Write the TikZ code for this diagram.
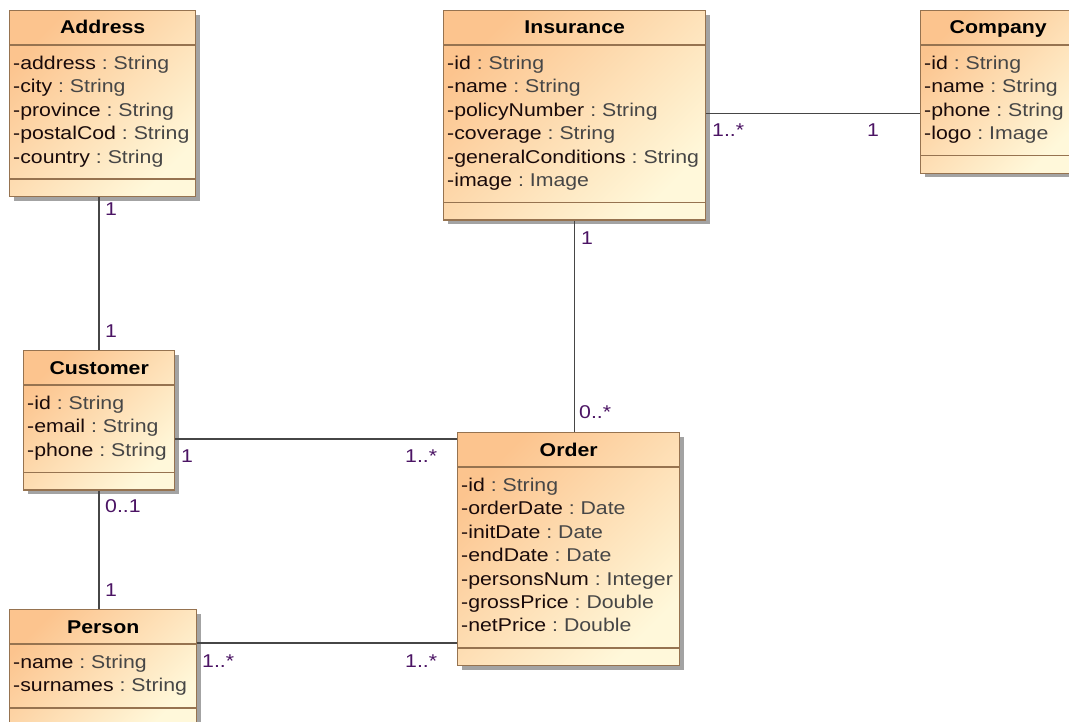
\documentclass[tikz,border=0pt]{standalone}
\usepackage{fontspec}
\setmainfont[FakeStretch=1.15]{Liberation Sans}
\usetikzlibrary{shadows,calc}
\definecolor{boxborder}{RGB}{150,115,80}
\definecolor{boxtop}{RGB}{252,196,142}
\definecolor{boxbot}{RGB}{255,248,218}
\definecolor{namecol}{RGB}{25,10,10}
\definecolor{typecol}{RGB}{70,70,70}
\definecolor{multcol}{RGB}{75,20,100}
\definecolor{linecol}{RGB}{70,70,70}
\tikzset{
  classbox/.style={draw=boxborder, line width=1.4pt, rectangle, inner sep=0pt,
    top color=boxtop, bottom color=boxbot, shading angle=45,
    drop shadow={shadow xshift=4pt, shadow yshift=-4pt, fill=black!45, opacity=0.8}},
  divider/.style={draw=boxborder, line width=1.4pt},
  titletext/.style={font=\fontsize{18.5}{22}\selectfont\bfseries, text=black, inner sep=0pt, anchor=base},
  attrtext/.style={font=\fontsize{18.5}{22}\selectfont, text=namecol, inner sep=0pt, anchor=base west},
  mult/.style={font=\fontsize{18.5}{22}\selectfont, text=multcol, inner sep=0pt, anchor=west},
  assoc/.style={draw=linecol, line width=1.5pt},
}
\newcommand\umlclass[7]{%
  \pgfmathsetmacro\umlhh{35+17+23.4*#5+17}%
  \pgfmathsetmacro\umldd{35+17+23.4*#5}%
  \node[classbox, minimum width=#4pt, minimum height=\umlhh pt, anchor=north west] (#1) at (#2,#3) {};
  \draw[divider] ([yshift=-35pt]#1.north west) -- ([yshift=-35pt]#1.north east);
  \draw[divider] ([yshift=-\umldd pt]#1.north west) -- ([yshift=-\umldd pt]#1.north east);
  \node[titletext] (#1-t) at ([yshift=-24pt]#1.north) {#6};
  \foreach \an/\at [count=\i] in {#7} {
    \pgfmathsetmacro\umlyy{35+18+23.4*(\i-1)+6.5}
    \node[attrtext] (#1-a\i) at ([xshift=4pt, yshift=-\umlyy pt]#1.north west) {\an{}~\textcolor{typecol}{:~\at}};
  }
}
\begin{document}
\begin{tikzpicture}[x=1pt,y=-1pt]
\useasboundingbox (0,0) rectangle (1069,722);
\clip (0,0) rectangle (1069,722);
\fill[white] (0,0) rectangle (1069,722);

\umlclass{addr}{9}{10}{186}{5}{Address}{-address/String,-city/String,-province/String,-postalCod/String,-country/String}
\umlclass{ins}{443}{10}{262}{6}{Insurance}{-id/String,-name/String,-policyNumber/String,-coverage/String,-generalConditions/String,-image/Image}
\umlclass{comp}{920}{10}{155}{4}{Company}{-id/String,-name/String,-phone/String,-logo/Image}
\umlclass{cust}{23}{350}{151}{3}{Customer}{-id/String,-email/String,-phone/String}
\umlclass{ord}{457}{432}{222}{7}{Order}{-id/String,-orderDate/Date,-initDate/Date,-endDate/Date,-personsNum/Integer,-grossPrice/Double,-netPrice/Double}
\umlclass{pers}{9}{609}{187}{2}{Person}{-name/String,-surnames/String}

% associations
\draw[assoc] (cust.north) -- (cust.north |- addr.south);
\draw[assoc] (cust.south) -- (cust.south |- pers.north);
\draw[assoc] (ins.south) -- (ins.south |- ord.north);
\draw[assoc] ([yshift=2pt]ins.east) -- ([yshift=2pt]ins.east -| comp.west);
\draw[assoc] ([yshift=-7pt]ord.north west) -- ([yshift=-7pt]ord.north west -| cust.east);
\draw[assoc] ([yshift=-34pt]pers.north east) -- ([yshift=-34pt]pers.north east -| ord.west);

% multiplicities
\node[mult] (m1) at (105,209) {1};
\node[mult] (m2) at (105,331) {1};
\node[mult] (m3) at (581,238) {1};
\node[mult] (m4) at (579,412) {0..*};
\node[mult] (m5) at (712,130) {1..*};
\node[mult] (m6) at (867,130) {1};
\node[mult] (m7) at (181,456) {1};
\node[mult] (m8) at (405,456) {1..*};
\node[mult] (m9) at (105,506) {0..1};
\node[mult] (m10) at (105,590) {1};
\node[mult] (m11) at (202,661) {1..*};
\node[mult] (m12) at (405,661) {1..*};
\end{tikzpicture}
\end{document}
